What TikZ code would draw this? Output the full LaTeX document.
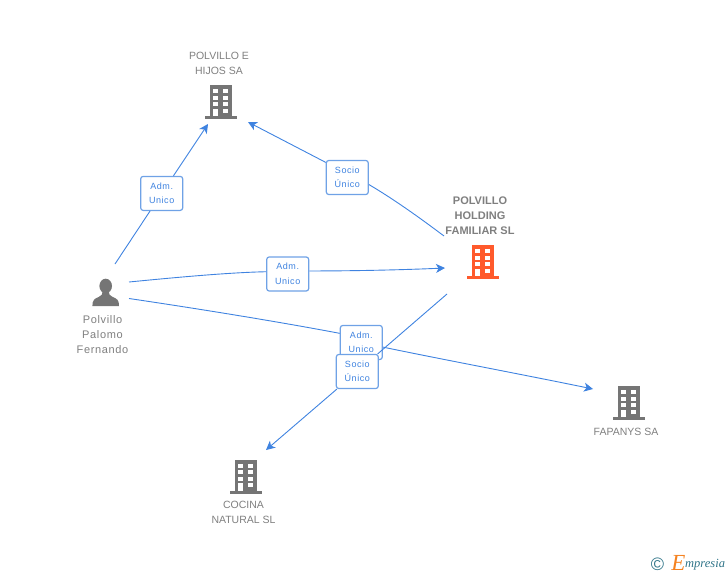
\documentclass[tikz,border=0pt]{standalone}
\usepackage{fontspec}
\setmainfont{Liberation Sans}
\newfontfamily\logofont{Liberation Serif}
\newfontfamily\widefont[LetterSpace=6]{Liberation Sans}
\usetikzlibrary{arrows.meta}

\definecolor{linkblue}{HTML}{3F83E0}
\definecolor{boxblue}{HTML}{6FA2E6}
\definecolor{txtgray}{HTML}{7F7F7F}
\definecolor{icongray}{HTML}{757575}
\definecolor{iconorange}{HTML}{FF5A2C}
\definecolor{logoteal}{HTML}{2F7488}
\definecolor{logoorange}{HTML}{F58220}

\tikzset{
  conn/.style={linkblue, line width=0.9pt},
  arr/.style={-{Stealth[length=9pt, width=9pt, inset=2.5pt]}},
  rolebox/.style={draw=boxblue, line width=1.2pt, fill=white, rounded corners=2.5pt,
    minimum width=42pt, minimum height=34pt, inner sep=0pt, align=center, text=linkblue,
    font=\widefont\fontsize{9}{14.5}\selectfont},
  idname/.style={align=center, text=txtgray, inner sep=0pt, font=\fontsize{10.5}{15}\selectfont},
  mainname/.style={idname, font=\fontsize{11}{15}\selectfont\bfseries},
  personname/.style={idname, font=\widefont\fontsize{11}{15}\selectfont},
  % origin of the icon: middle of its top edge
  building/.pic={
    \fill[pic actions] (-11.3, 0) rectangle (11.3, 31);
    \fill[pic actions] (-15.8, 31) rectangle (15.8, 34);
    \foreach \wx in {-7.7, 2.3} {
      \foreach \wy in {4.3, 10.7, 17.3} {
        \fill[white] (\wx, \wy) rectangle ++(5, 4);
      }
    }
    \fill[white] (-7.7, 23.7) rectangle ++(5, 7.3);
    \fill[white] (2.3, 23.7) rectangle ++(5, 4);
  },
  person/.pic={
    \fill[pic actions] (0, 7) ellipse (6.3 and 7.3);
    \fill[pic actions] (-13.3, 27) .. controls (-13.5, 21) and (-11, 19.5) .. (-7, 18)
      .. controls (-4, 17) and (-3, 15) .. (-3, 12) -- (3, 12)
      .. controls (3, 15) and (4, 17) .. (7, 18)
      .. controls (11, 19.5) and (13.5, 21) .. (13.3, 27) -- cycle;
  },
}

\begin{document}
\begin{tikzpicture}[x=1pt, y=-1pt]

  \useasboundingbox (0, 0) rectangle (728, 575);

  % icons
  \pic[icongray] at (221, 85) {building};
  \pic[iconorange] at (483, 245) {building};
  \pic[icongray] at (246, 459.5) {building};
  \pic[icongray] at (629, 386) {building};
  \pic[icongray] at (105.7, 279) {person};

  % names
  \node[idname] (hijosname) at (219, 63.5) {POLVILLO E\\HIJOS SA};
  \node[mainname] (holdingname) at (480, 215.5) {POLVILLO\\HOLDING\\FAMILIAR SL};
  \node[personname] (polvilloname) at (102.5, 335) {Polvillo\\Palomo\\Fernando};
  \node[idname] (cocinaname) at (243.5, 512.5) {COCINA\\NATURAL SL};
  \node[idname] (fapanysname) at (626, 432) {FAPANYS SA};

  % free ends of the connectors
  \coordinate (personup) at (115, 264);
  \coordinate (personmid) at (129, 282);
  \coordinate (personlow) at (129, 298.5);
  \coordinate (holdingup) at (444, 236);
  \coordinate (holdingin) at (445, 268);
  \coordinate (holdinglow) at (447, 294);
  \coordinate (hijosleft) at (208, 124);
  \coordinate (hijosright) at (248, 122);
  \coordinate (fapanysin) at (593, 389);
  \coordinate (cocinain) at (266, 450);

  % role boxes
  \node[rolebox] (admhijos) at (161.7, 193.4) {Adm.\\Unico};
  \node[rolebox] (sociohijos) at (347.3, 177.5) {Socio\\Único};
  \node[rolebox] (admholding) at (287.7, 274) {Adm.\\Unico};
  \node[rolebox] (admfapanys) at (361.3, 342.5) {Adm.\\Unico};
  \node[rolebox] (sociococina) at (357.3, 371.5) {Socio\\Único};

  % connectors
  \draw[conn] (personup) -- (admhijos);
  \draw[conn, arr] (admhijos) -- (hijosleft);

  \draw[conn] (holdingup) .. controls (420, 218) and (395, 200) .. (sociohijos.342);
  \draw[conn, arr] (sociohijos.145) -- (hijosright);

  \draw[conn] (personmid) .. controls (180, 277) and (230, 272.5) .. (admholding.174);
  \draw[conn, arr] (admholding.8) .. controls (350, 271) and (400, 270) .. (holdingin);

  \draw[conn] (personlow) .. controls (200, 309) and (280, 322) .. (admfapanys.157);
  \draw[conn, arr] (admfapanys.348) .. controls (440, 359) and (520, 374) .. (fapanysin);

  \draw[conn] (holdinglow) -- (sociococina);
  \draw[conn, arr] (sociococina) -- (cocinain);

  % logo
  \node[text=logoteal, inner sep=0pt, font=\fontsize{18}{18}\selectfont] (logocopy) at (657.5, 564.5) {©};
  \node[text=logoorange, inner sep=0pt, font=\fontsize{23}{23}\logofont\itshape] (logoe) at (678.5, 563) {E};
  \node[text=logoteal, inner sep=0pt, anchor=west, font=\fontsize{12.5}{12.5}\logofont\itshape] (logotxt) at (685, 565) {mpresia};

\end{tikzpicture}
\end{document}
